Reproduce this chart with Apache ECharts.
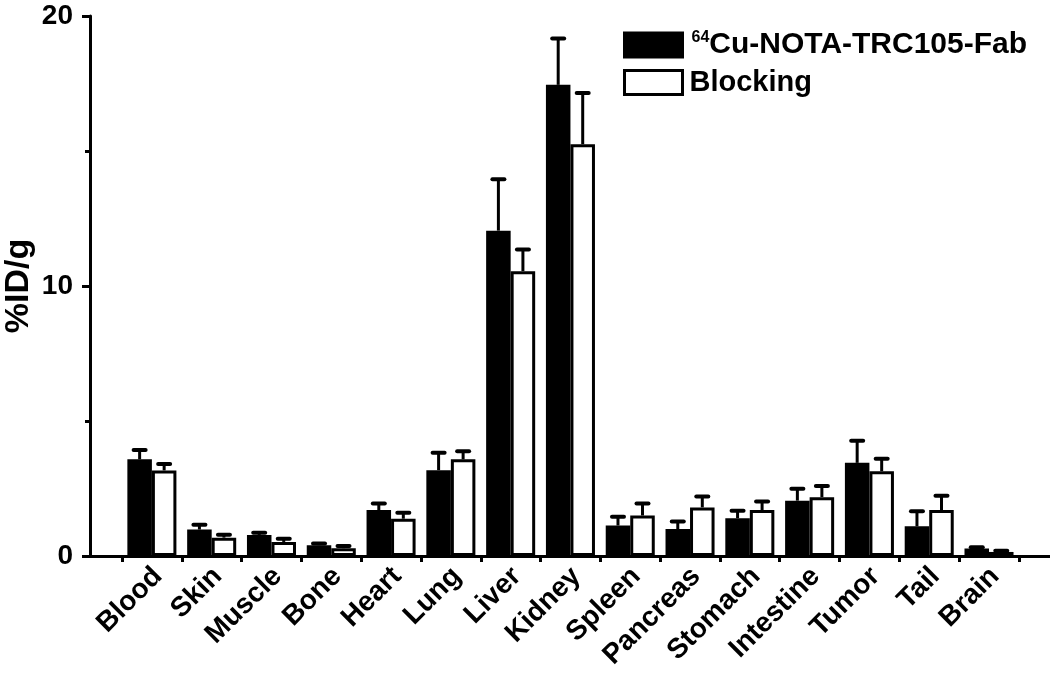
<!DOCTYPE html>
<html>
<head>
<meta charset="utf-8">
<script src="https://cdn.jsdelivr.net/npm/echarts@6/dist/echarts.min.js"></script>
<style>html,body{margin:0;padding:0;background:#fff;}#c{width:1050px;height:674px;}</style>
</head>
<body>
<div id="c"></div>
<script>
var categories = ['Blood','Skin','Muscle','Bone','Heart','Lung','Liver','Kidney','Spleen','Pancreas','Stomach','Intestine','Tumor','Tail','Brain'];
var seriesNames = ['Cu-NOTA-TRC105-Fab','Blocking'];
var tracerMean = [3.58, 0.98, 0.78, 0.40, 1.70, 3.18, 12.05, 17.45, 1.13, 1.00, 1.40, 2.05, 3.45, 1.10, 0.28];
var tracerErr  = [0.35, 0.18, 0.08, 0.06, 0.24, 0.64, 1.90, 1.72, 0.32, 0.28, 0.28, 0.44, 0.82, 0.56, 0.04];
var blockMean  = [3.17, 0.68, 0.52, 0.29, 1.38, 3.58, 10.55, 15.25, 1.50, 1.80, 1.70, 2.18, 3.14, 1.70, 0.15];
var blockErr   = [0.24, 0.11, 0.12, 0.08, 0.22, 0.30, 0.80, 1.90, 0.44, 0.40, 0.32, 0.41, 0.46, 0.53, 0.04];
var yTicks = [0, 10, 20];

var FONT = '"Liberation Sans", Arial, sans-serif';
var BAR_FRAC = 0.41;
var LABEL_SHIFT = 0.1;
function pos(i){ return i + 0.5; }

function barData(arr){ return arr.map(function(v,i){ return [pos(i), v]; }); }
function errData(mean, err){ return mean.map(function(v,i){ return [pos(i), v, v + err[i]]; }); }

function errRender(side){
  return function(params, api){
    var x = api.value(0);
    var top = api.coord([x, api.value(2)]);
    var base = api.coord([x, api.value(1)]);
    var bw = api.size([1, 0])[0] * BAR_FRAC;
    var cx = top[0] + side * bw / 2;
    var capHalf = 6;
    return {
      type: 'group',
      children: [
        {type:'line', shape:{x1:cx, y1:base[1], x2:cx, y2:top[1]}, style:{stroke:'#000', lineWidth:3}},
        {type:'line', shape:{x1:cx-capHalf, y1:top[1], x2:cx+capHalf, y2:top[1]}, style:{stroke:'#000', lineWidth:4, lineCap:'round'}}
      ]
    };
  };
}

var tickVals = [];
for (var k = 0; k <= categories.length; k++) tickVals.push(k);
var labelVals = categories.map(function(c,i){ return pos(i) + LABEL_SHIFT; });

var chart = echarts.init(document.getElementById('c'), null, {renderer:'canvas'});
chart.setOption({
  backgroundColor: '#fff',
  animation: false,
  grid: {left: 90, right: 0, top: 16, bottom: 118, containLabel: false, outerBoundsMode: 'none'},
  legend: {
    left: 623, top: 30, orient: 'vertical', itemWidth: 58, itemHeight: 24, itemGap: 8, padding: 0,
    icon: 'rect',
    data: [
      {name: seriesNames[0], itemStyle:{color:'#000', borderColor:'#000', borderWidth:3}},
      {name: seriesNames[1], itemStyle:{color:'#fff', borderColor:'#000', borderWidth:3}}
    ],
    formatter: function(n){ return n === seriesNames[0] ? '{sup|64}{m|' + n + '}' : '{b|' + n + '}'; },
    textStyle: {
      color:'#000', fontFamily: FONT, fontWeight:'bold', fontSize: 30,
      rich: {
        sup: {fontSize: 16, fontWeight:'bold', fontFamily: FONT, color:'#000', verticalAlign:'top', lineHeight: 30, padding:[0,0,0,4]},
        m: {fontSize: 30, fontWeight:'bold', fontFamily: FONT, color:'#000', lineHeight: 30},
        b: {fontSize: 29, fontWeight:'bold', fontFamily: FONT, color:'#000', lineHeight: 30, padding:[0,0,0,2]}
      }
    }
  },
  xAxis: {
    type: 'value', min: -0.535, max: 15.52,
    splitLine: {show:false},
    axisLine: {show:true, onZero:false, lineStyle:{color:'#000', width:3}},
    axisTick: {show:true, customValues: tickVals, length: 6, inside:false, lineStyle:{color:'#000', width:3}},
    axisLabel: {
      customValues: labelVals, rotate: 45, margin: 16,
      formatter: function(v){ return categories[Math.round(v - 0.5 - LABEL_SHIFT)] || ''; },
      color:'#000', fontFamily: FONT, fontWeight:'bold', fontSize: 28
    }
  },
  yAxis: {
    type: 'value', min: 0, max: 20, interval: 10,
    name: '%ID/g', nameLocation: 'middle', nameGap: 54, nameRotate: 90, nameMoveOverlap: false,
    nameTextStyle: {color:'#000', fontFamily: FONT, fontWeight:'bold', fontSize: 34},
    splitLine: {show:false},
    axisLine: {show:true, onZero:false, lineStyle:{color:'#000', width:3}},
    axisTick: {show:true, length: 8, lineStyle:{color:'#000', width:3}},
    minorTick: {show:true, splitNumber: 2, length: 5, lineStyle:{color:'#000', width:3}},
    axisLabel: {
      margin: 17, color:'#000', fontFamily: FONT, fontWeight:'bold', fontSize: 28,
      formatter: function(v){ return yTicks.indexOf(v) >= 0 ? String(v) : ''; }
    }
  },
  series: [
    {name: seriesNames[0], type:'bar', data: barData(tracerMean), barWidth: (BAR_FRAC*100)+'%', barGap: '0%',
     itemStyle:{color:'#000', borderColor:'#000', borderWidth:3}, z: 2},
    {name: seriesNames[1], type:'bar', data: barData(blockMean), barWidth: (BAR_FRAC*100)+'%', barGap: '0%',
     itemStyle:{color:'#fff', borderColor:'#000', borderWidth:3}, z: 2},
    {type:'custom', data: errData(tracerMean, tracerErr), renderItem: errRender(-1), z: 1, silent:true},
    {type:'custom', data: errData(blockMean, blockErr), renderItem: errRender(1), z: 1, silent:true}
  ]
});
</script>
</body>
</html>
